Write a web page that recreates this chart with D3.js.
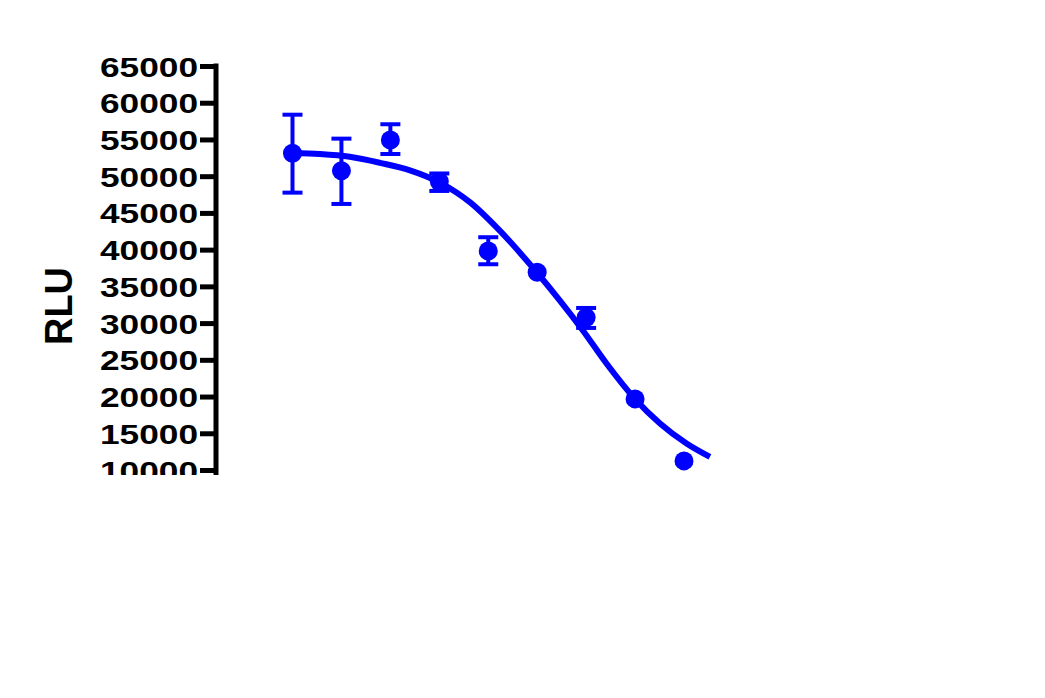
<!DOCTYPE html>
<html>
<head>
<meta charset="utf-8">
<script src="https://cdn.jsdelivr.net/npm/d3@7"></script>
<style>
  html, body { margin: 0; padding: 0; background: #fff; }
  svg { display: block; }
  text { font-family: "Liberation Sans", Arial, sans-serif; font-weight: bold; }
</style>
</head>
<body>
<svg id="chart" width="1045" height="698"></svg>
<script>
// ---- data ----
const yTicks = [10000, 15000, 20000, 25000, 30000, 35000, 40000, 45000, 50000, 55000, 60000, 65000];
const doseIndex = [0, 1, 2, 3, 4, 5, 6, 7, 8];
const meanRLU  = [53120, 50750, 54930, 49280, 39820, 36920, 30770, 19680, 11240];
const upperRLU = [58370, 55110, 57070, 50370, 41690, 36920, 32060, 19680, 11240];
const lowerRLU = [47760, 46220, 53020, 47990, 38010, 36920, 29340, 19680, 11240];
// fitted curve
const curveX = [0, 0.56, 1.17, 1.79, 2.40, 3.01, 3.63, 4.24, 4.99, 5.46, 5.93, 6.42, 6.99, 7.51, 8.06, 8.53];
const curveY = [53160, 53010, 52640, 51820, 50800, 49130, 46430, 42550, 36920, 33100, 29030, 24460, 19740, 16330, 13570, 11780];
const yLabel = "RLU";

const blue = "#0000ff";
const svg = d3.select("#chart");
svg.append("rect").attr("width", 1045).attr("height", 698).attr("fill", "#fff");

svg.append("defs").append("clipPath").attr("id", "clip")
  .append("rect").attr("x", 0).attr("y", 0).attr("width", 1045).attr("height", 475);

const x = d3.scaleLinear().domain([0, 8]).range([292.5, 684]);
const y = d3.scaleLinear().domain([10000, 65000]).range([470, 66]);

const g = svg.append("g").attr("clip-path", "url(#clip)");

// y axis
const axisX = 216;
const ax = g.append("g").attr("transform", `translate(${axisX},0)`)
  .call(d3.axisLeft(y).tickValues(yTicks).tickSize(16).tickSizeOuter(0).tickFormat(d3.format("d")));
ax.select(".domain").remove();
ax.selectAll(".tick line").attr("stroke", "#000").attr("stroke-width", 5);
ax.selectAll(".tick text")
  .attr("fill", "#000")
  .attr("font-size", 28)
  .attr("x", -18 / 1.26)
  .attr("dy", "0.36em")
  .attr("transform", "scale(1.26,1)")
  .attr("text-anchor", "end");
ax.append("line")
  .attr("x1", 0).attr("x2", 0)
  .attr("y1", y(65000) - 2.5).attr("y2", y(10000) + 6)
  .attr("stroke", "#000").attr("stroke-width", 5);

// y label
svg.append("text")
  .attr("transform", `translate(72,306) rotate(-90)`)
  .attr("text-anchor", "middle")
  .attr("font-size", 38)
  .attr("fill", "#000")
  .text(yLabel);

// fitted curve
const line = d3.line().x(d => x(d[0])).y(d => y(d[1])).curve(d3.curveMonotoneX);
g.append("path")
  .datum(curveX.map((v, i) => [v, curveY[i]]))
  .attr("d", line)
  .attr("fill", "none")
  .attr("stroke", blue)
  .attr("stroke-width", 6);

// error bars
const pts = doseIndex.map((d, i) => ({ x: d, m: meanRLU[i], hi: upperRLU[i], lo: lowerRLU[i] }));
const eb = g.append("g").selectAll("g").data(pts.filter(p => p.hi - p.lo > 0)).join("g");
eb.append("line")
  .attr("x1", p => x(p.x)).attr("x2", p => x(p.x))
  .attr("y1", p => y(p.hi)).attr("y2", p => y(p.lo))
  .attr("stroke", blue).attr("stroke-width", 4);
eb.append("line")
  .attr("x1", p => x(p.x) - 10).attr("x2", p => x(p.x) + 10)
  .attr("y1", p => y(p.hi)).attr("y2", p => y(p.hi))
  .attr("stroke", blue).attr("stroke-width", 4);
eb.append("line")
  .attr("x1", p => x(p.x) - 10).attr("x2", p => x(p.x) + 10)
  .attr("y1", p => y(p.lo)).attr("y2", p => y(p.lo))
  .attr("stroke", blue).attr("stroke-width", 4);

// points
g.append("g").selectAll("circle").data(pts).join("circle")
  .attr("cx", p => x(p.x)).attr("cy", p => y(p.m))
  .attr("r", 9.5)
  .attr("fill", blue);
</script>
</body>
</html>
